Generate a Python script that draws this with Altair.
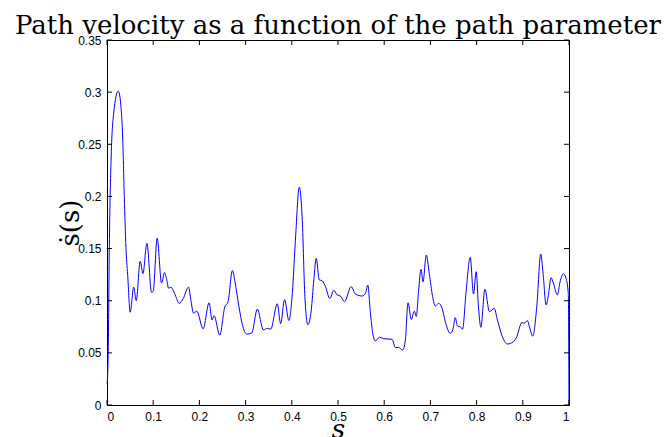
import altair as alt
import pandas as pd

# path parameter s and path velocity s_dot(s)
s_vals = [0.0, 0.0015, 0.0028, 0.005, 0.0086, 0.0145, 0.0244, 0.0302, 0.0339, 0.0374,
          0.041, 0.0447, 0.0503, 0.0577, 0.0633, 0.0719, 0.0778, 0.0864, 0.0965, 0.1,
          0.1086, 0.1181, 0.1246, 0.1289, 0.1333, 0.1382, 0.1432, 0.149, 0.1562, 0.1648,
          0.1765, 0.1814, 0.1873, 0.1944, 0.208, 0.221, 0.2274, 0.2317, 0.2441, 0.2549,
          0.262, 0.2715, 0.2771, 0.2857, 0.2931, 0.3024, 0.3132, 0.3255, 0.3384, 0.3471,
          0.3542, 0.3687, 0.3758, 0.3844, 0.3937, 0.4011, 0.4082, 0.4162, 0.4227, 0.4283,
          0.4348, 0.4421, 0.4477, 0.4529, 0.4594, 0.4659, 0.473, 0.4823, 0.4909, 0.4983,
          0.5054, 0.514, 0.5285, 0.5378, 0.5523, 0.5594, 0.5644, 0.5702, 0.5752, 0.581,
          0.5896, 0.5989, 0.6171, 0.6242, 0.6313, 0.64, 0.6458, 0.6516, 0.6587, 0.6652,
          0.6695, 0.6745, 0.6797, 0.684, 0.6911, 0.6976, 0.7048, 0.7106, 0.7177, 0.7251,
          0.7322, 0.743, 0.7488, 0.7538, 0.7587, 0.7646, 0.7695, 0.7775, 0.7862, 0.7933,
          0.7991, 0.8041, 0.8093, 0.8179, 0.8279, 0.838, 0.8451, 0.8546, 0.8667, 0.8797,
          0.887, 0.8978, 0.9028, 0.91, 0.9143, 0.9216, 0.9302, 0.9389, 0.9445, 0.9503,
          0.9553, 0.9611, 0.9661, 0.9747, 0.9806, 0.9877, 0.9935, 0.9985, 1.0]
sdot_vals = [0.02, 0.03, 0.056, 0.151, 0.232, 0.28, 0.301, 0.286, 0.257, 0.2,
             0.151, 0.125, 0.089, 0.113, 0.1, 0.138, 0.126, 0.155, 0.108, 0.109,
             0.16, 0.117, 0.127, 0.121, 0.112, 0.113, 0.11, 0.104, 0.0975, 0.102,
             0.113, 0.101, 0.088, 0.09, 0.073, 0.098, 0.0815, 0.0857, 0.067, 0.094,
             0.099, 0.129, 0.118, 0.094, 0.077, 0.068, 0.069, 0.092, 0.072, 0.0735,
             0.0726, 0.097, 0.078, 0.101, 0.081, 0.107, 0.161, 0.209, 0.177, 0.104,
             0.077, 0.091, 0.12, 0.1406, 0.12, 0.119, 0.1135, 0.102, 0.11, 0.1055,
             0.1045, 0.099, 0.1135, 0.1064, 0.1045, 0.107, 0.115, 0.088, 0.0687, 0.0614,
             0.065, 0.0636, 0.063, 0.055, 0.0553, 0.0527, 0.0623, 0.098, 0.082, 0.09,
             0.085, 0.11, 0.13, 0.118, 0.1438, 0.126, 0.104, 0.095, 0.0975, 0.093,
             0.08, 0.0687, 0.0726, 0.0837, 0.0757, 0.075, 0.0726, 0.11, 0.1416, 0.1064,
             0.1278, 0.094, 0.0745, 0.111, 0.0895, 0.0927, 0.0815, 0.067, 0.0585, 0.0607,
             0.0655, 0.079, 0.0783, 0.081, 0.075, 0.066, 0.094, 0.1448, 0.123, 0.096,
             0.105, 0.122, 0.117, 0.1055, 0.118, 0.126, 0.1215, 0.107, 0.0]

x_ticks = [0, 0.1, 0.2, 0.3, 0.4, 0.5, 0.6, 0.7, 0.8, 0.9, 1]
y_ticks = [0, 0.05, 0.1, 0.15, 0.2, 0.25, 0.3, 0.35]

W, H = 462, 365
TICK = 5
LABEL_FONT = "Liberation Sans"
SERIF = "DejaVu Serif"

curve = pd.DataFrame({"s": s_vals, "sdot": sdot_vals})
xt = pd.DataFrame({"s": x_ticks})
yt = pd.DataFrame({"sdot": y_ticks})

x_scale = alt.Scale(domain=[0, 1], nice=False, zero=False)
y_scale = alt.Scale(domain=[0, 0.35], nice=False, zero=False)

x_axis = alt.Axis(values=x_ticks, format="~g", grid=False, tickSize=0, labelPadding=6,
                  labelFont=LABEL_FONT, labelFontSize=12, labelColor="black",
                  domainColor="black", title="s", titleFont=SERIF, titleFontSize=26,
                  titleFontStyle="italic", titleFontWeight="normal", titleColor="black",
                  titleX=W / 2, titleY=32, titleBaseline="alphabetic", titleAlign="center")
y_axis = alt.Axis(values=y_ticks, format="~g", grid=False, tickSize=0, labelPadding=6,
                  labelFont=LABEL_FONT, labelFontSize=12, labelColor="black",
                  domainColor="black", title="ṡ(s)", titleFont=SERIF, titleFontSize=26,
                  titleFontWeight="normal", titleColor="black", titleAngle=270,
                  titleX=-37, titleY=H / 2, titleBaseline="middle", titleAlign="center")

line = alt.Chart(curve).mark_line(color="#0000ff", strokeWidth=1, interpolate="monotone").encode(
    x=alt.X("s:Q", scale=x_scale, axis=x_axis),
    y=alt.Y("sdot:Q", scale=y_scale, axis=y_axis),
)

tick_style = dict(color="black", strokeWidth=1)
bottom_ticks = alt.Chart(xt).mark_rule(**tick_style).encode(
    x=alt.X("s:Q", scale=x_scale), y=alt.value(H), y2=alt.value(H - TICK))
top_ticks = alt.Chart(xt).mark_rule(**tick_style).encode(
    x=alt.X("s:Q", scale=x_scale), y=alt.value(0), y2=alt.value(TICK))
left_ticks = alt.Chart(yt).mark_rule(**tick_style).encode(
    y=alt.Y("sdot:Q", scale=y_scale), x=alt.value(0), x2=alt.value(TICK))
right_ticks = alt.Chart(yt).mark_rule(**tick_style).encode(
    y=alt.Y("sdot:Q", scale=y_scale), x=alt.value(W), x2=alt.value(W - TICK))

chart = alt.layer(line, bottom_ticks, top_ticks, left_ticks, right_ticks).properties(
    width=W,
    height=H,
    title=alt.TitleParams("Path velocity as a function of the path parameter",
                          font=SERIF, fontSize=26, fontWeight="normal", color="black",
                          anchor="middle", baseline="alphabetic", offset=0, dy=26),
    autosize=alt.AutoSizeParams(type="none"),
    padding={"left": 107, "top": 40, "right": 666 - 107 - W, "bottom": 437 - 40 - H},
    background="white",
).configure_view(stroke="black", strokeWidth=1)

chart.save("out.html", embed_options={"renderer": "svg", "actions": False})
